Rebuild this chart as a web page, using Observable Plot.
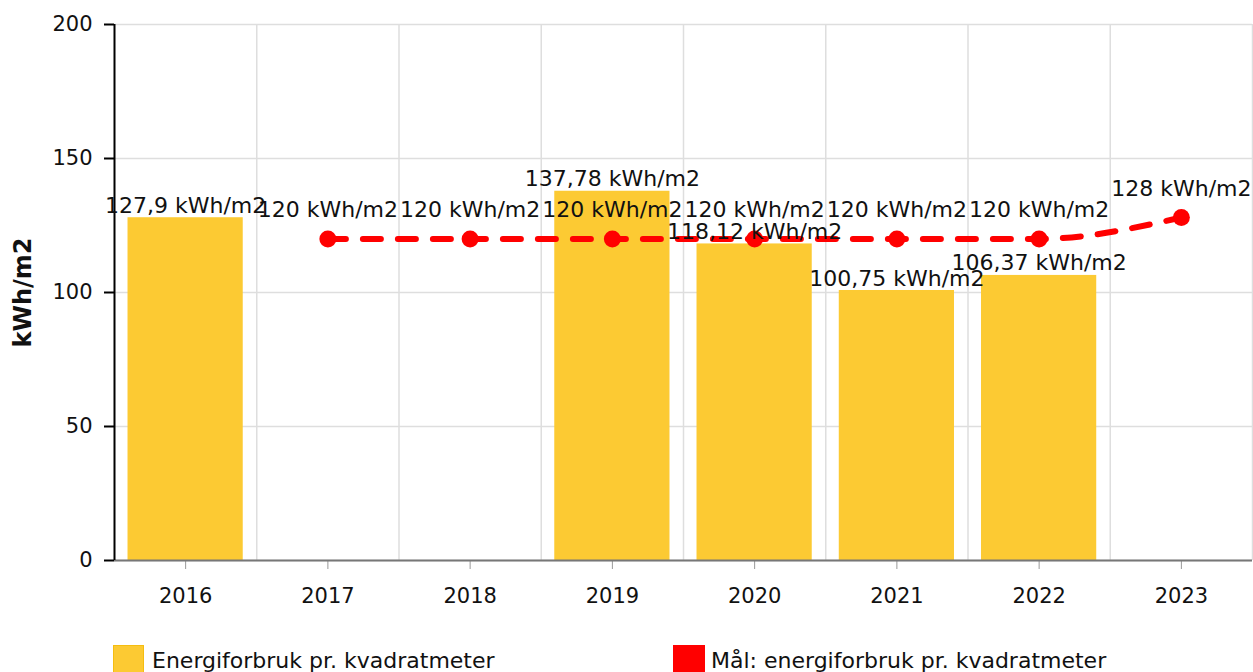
<!DOCTYPE html>
<html>
<head>
<meta charset="utf-8">
<script src="https://cdn.jsdelivr.net/npm/d3@7"></script>
<script src="https://cdn.jsdelivr.net/npm/@observablehq/plot@0.6"></script>
<style>
  body { margin: 0; background: #fff; font-family: "DejaVu Sans", Verdana, sans-serif; }
  #chart svg { display: block; }
  .legend { position: relative; width: 1253px; height: 40px; margin-top: 15px; font-size: 22px; color: #111; }
  .item { position: absolute; top: 0; display: flex; align-items: center; }
  .sw { display: inline-block; }
</style>
</head>
<body>
<div id="chart"></div>
<div class="legend">
  <div class="item" style="left:113px"><span class="sw" style="width:29px;height:29px;background:#fcca33;border:1px solid #f5bd10;margin-right:8px;"></span><span>Energiforbruk pr. kvadratmeter</span></div>
  <div class="item" style="left:673px"><span class="sw" style="width:32px;height:31px;background:#ff0000;margin-right:6px;"></span><span>Mål: energiforbruk pr. kvadratmeter</span></div>
</div>
<script>
const years = [2016, 2017, 2018, 2019, 2020, 2021, 2022, 2023];
const consumption = [127.9, null, null, 137.78, 118.12, 100.75, 106.37, null];
const target = [null, 120, 120, 120, 120, 120, 120, 128];
const yTicks = [0, 50, 100, 150, 200];
const unit = " kWh/m2";

const fmt = v => String(v).replace(".", ",") + unit;
const bars = years.map((y, i) => ({year: y, value: consumption[i]})).filter(d => d.value != null);
const goals = years.map((y, i) => ({year: y, value: target[i]})).filter(d => d.value != null);
const gridX = years.map(y => y + 0.5);

const font = "DejaVu Sans";
const chart = Plot.plot({
  width: 1253,
  height: 630,
  marginLeft: 114,
  marginRight: 1,
  marginTop: 24,
  marginBottom: 70,
  style: {fontFamily: font, fontSize: "21px", color: "#111", background: "#fff"},
  x: {domain: [2015.5, 2023.5], axis: null},
  y: {domain: [0, 200], axis: null},
  marks: [
    Plot.ruleY(yTicks, {stroke: "#dedede", strokeWidth: 1.5}),
    Plot.ruleX(gridX, {stroke: "#dedede", strokeWidth: 1.5}),
    Plot.rectY(bars, {x1: d => d.year - 0.405, x2: d => d.year + 0.405, y: "value", fill: "#fcca33"}),
    Plot.axisX({ticks: years, tickFormat: d => String(d), label: null, tickSize: 9, tickPadding: 19, stroke: "#999", fontSize: 21, fill: "#111"}),
    Plot.ruleY([0], {stroke: "#777", strokeWidth: 2}),
    Plot.axisY({ticks: yTicks, tickSize: 10, tickPadding: 12, label: null, fontSize: 21, stroke: "#000", strokeWidth: 2, fill: "#111"}),
    Plot.ruleX([2015.5], {stroke: "#000", strokeWidth: 2}),
    Plot.line(goals, {x: "year", y: "value", stroke: "#ff0000", strokeWidth: 6, strokeDasharray: "18,17", curve: "monotone-x"}),
    Plot.dot(goals, {x: "year", y: "value", r: 8.5, fill: "#ff0000"}),
    Plot.text(bars, {x: "year", y: "value", text: d => fmt(d.value), dy: -12, fontSize: 22, fill: "#111"}),
    Plot.text(goals, {x: "year", y: "value", text: d => fmt(d.value), dy: -29, fontSize: 22, fill: "#111"}),
    Plot.text(["kWh/m2"], {frameAnchor: "left", textAnchor: "middle", dx: -91, rotate: -90, fontWeight: "bold", fontSize: 24, fill: "#111"})
  ]
});
document.getElementById("chart").append(chart);
</script>
</body>
</html>
